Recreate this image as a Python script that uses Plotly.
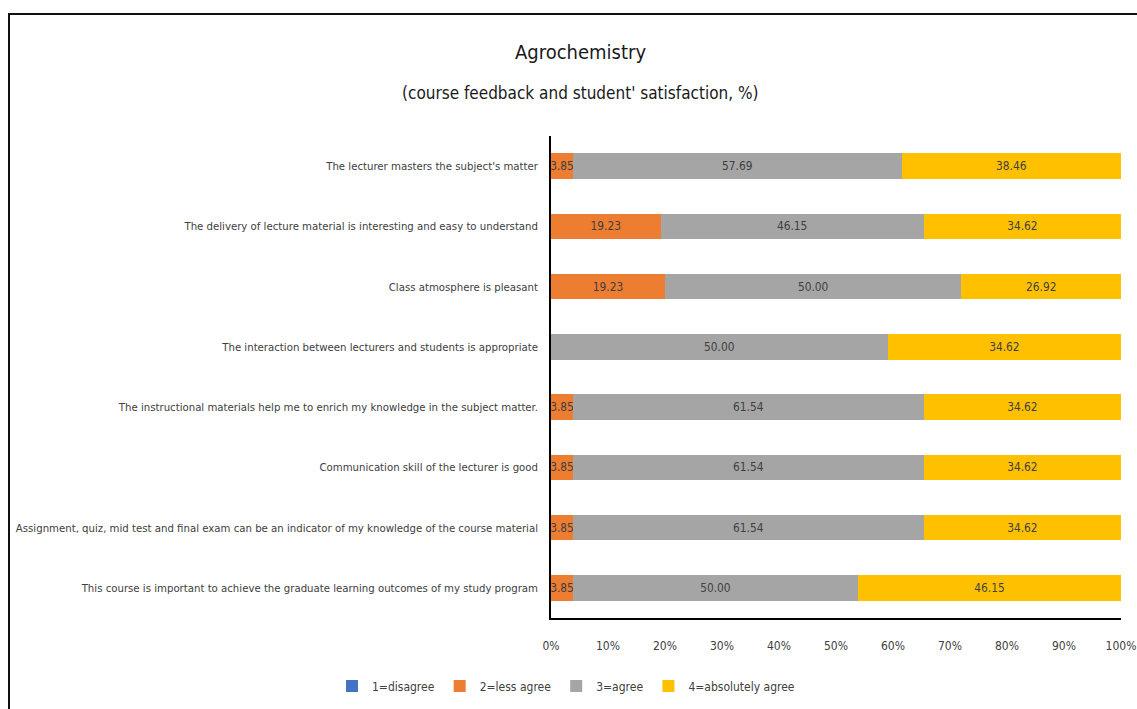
import plotly.graph_objects as go

# Survey statements (top to bottom as displayed)
statements = [
    "The lecturer masters the subject's matter",
    "The delivery of lecture material is interesting and easy to understand",
    "Class atmosphere is pleasant",
    "The interaction between lecturers and students is appropriate",
    "The instructional materials help me to enrich my knowledge in the subject matter.",
    "Communication skill of the lecturer is good",
    "Assignment, quiz, mid test and final exam can be an indicator of my knowledge of the course material",
    "This course is important to achieve the graduate learning outcomes of my study program",
]

# Response shares (%) per statement; None = no responses in that category
disagree = [None, None, None, None, None, None, None, None]
less_agree = [3.85, 19.23, 19.23, None, 3.85, 3.85, 3.85, 3.85]
agree = [57.69, 46.15, 50.00, 50.00, 61.54, 61.54, 61.54, 50.00]
absolutely_agree = [38.46, 34.62, 26.92, 34.62, 34.62, 34.62, 34.62, 46.15]

x_ticks = [0, 10, 20, 30, 40, 50, 60, 70, 80, 90, 100]
x_tick_labels = [f"{t}%" for t in x_ticks]

series = [
    ("1=disagree", disagree, "#4472C4"),
    ("2=less agree", less_agree, "#ED7D31"),
    ("3=agree", agree, "#A5A5A5"),
    ("4=absolutely agree", absolutely_agree, "#FFC000"),
]

FONT = "DejaVu Sans Condensed, Liberation Sans Narrow, Liberation Sans, sans-serif"
TEXT_COLOR = "#404040"

fig = go.Figure()
for name, vals, color in series:
    fig.add_trace(go.Bar(
        y=statements,
        x=vals,
        name=name,
        orientation="h",
        marker=dict(color=color, line=dict(width=0)),
        text=[f"{v:.2f}" if v is not None else "" for v in vals],
        textposition="inside",
        insidetextanchor="middle",
        textangle=0,
        constraintext="none",
        textfont=dict(family=FONT, size=11.8, color=TEXT_COLOR),
        hoverinfo="skip",
    ))

# Plot area geometry in pixels
W, H = 1137, 709
L, R, T, B = 551, 16, 136, 91
pw, ph = W - L - R, H - T - B

def px_x(x):
    return (x - L) / pw

def px_y(y):
    return 1 - (y - T) / ph

fig.update_layout(
    width=W, height=H,
    barmode="stack",
    barnorm="percent",
    bargap=0.58,
    plot_bgcolor="white",
    paper_bgcolor="white",
    margin=dict(l=L, r=R, t=T, b=B, pad=0, autoexpand=False),
    font=dict(family=FONT, color=TEXT_COLOR, size=12),
    xaxis=dict(
        range=[0, 100],
        tickvals=x_ticks,
        ticktext=x_tick_labels,
        showgrid=False,
        zeroline=False,
        showline=True,
        linecolor="black",
        linewidth=1.5,
        ticks="outside",
        ticklen=16,
        tickcolor="rgba(0,0,0,0)",
        tickfont=dict(family=FONT, size=12, color=TEXT_COLOR),
        automargin=False,
        fixedrange=True,
    ),
    yaxis=dict(
        categoryorder="array",
        categoryarray=statements[::-1],
        showgrid=False,
        zeroline=False,
        showline=True,
        linecolor="black",
        linewidth=1.5,
        ticks="outside",
        ticklen=9,
        tickcolor="rgba(0,0,0,0)",
        tickfont=dict(family=FONT, size=11.3, color=TEXT_COLOR),
        automargin=False,
        fixedrange=True,
    ),
    legend=dict(
        orientation="h",
        x=px_x(566),
        xanchor="center",
        y=px_y(686), yanchor="middle",
        font=dict(family=FONT, size=12, color=TEXT_COLOR),
        itemwidth=30,
        traceorder="normal",
    ),
    showlegend=True,
)

# Title block
fig.add_annotation(
    text="Agrochemistry", xref="paper", yref="paper",
    x=px_x(580), y=px_y(52), xanchor="center", yanchor="middle",
    showarrow=False, font=dict(family=FONT, size=20, color="#1a1a1a"),
)
fig.add_annotation(
    text="(course feedback and student' satisfaction, %)", xref="paper", yref="paper",
    x=px_x(580), y=px_y(93), xanchor="center", yanchor="middle",
    showarrow=False, font=dict(family=FONT, size=17, color="#1a1a1a"),
)

# Chart frame
fig.add_shape(
    type="rect", xref="paper", yref="paper",
    x0=px_x(9), x1=px_x(1150), y0=px_y(725), y1=px_y(14),
    line=dict(color="#111111", width=2),
    fillcolor="rgba(0,0,0,0)", layer="below",
)

fig.write_html("out.html")
